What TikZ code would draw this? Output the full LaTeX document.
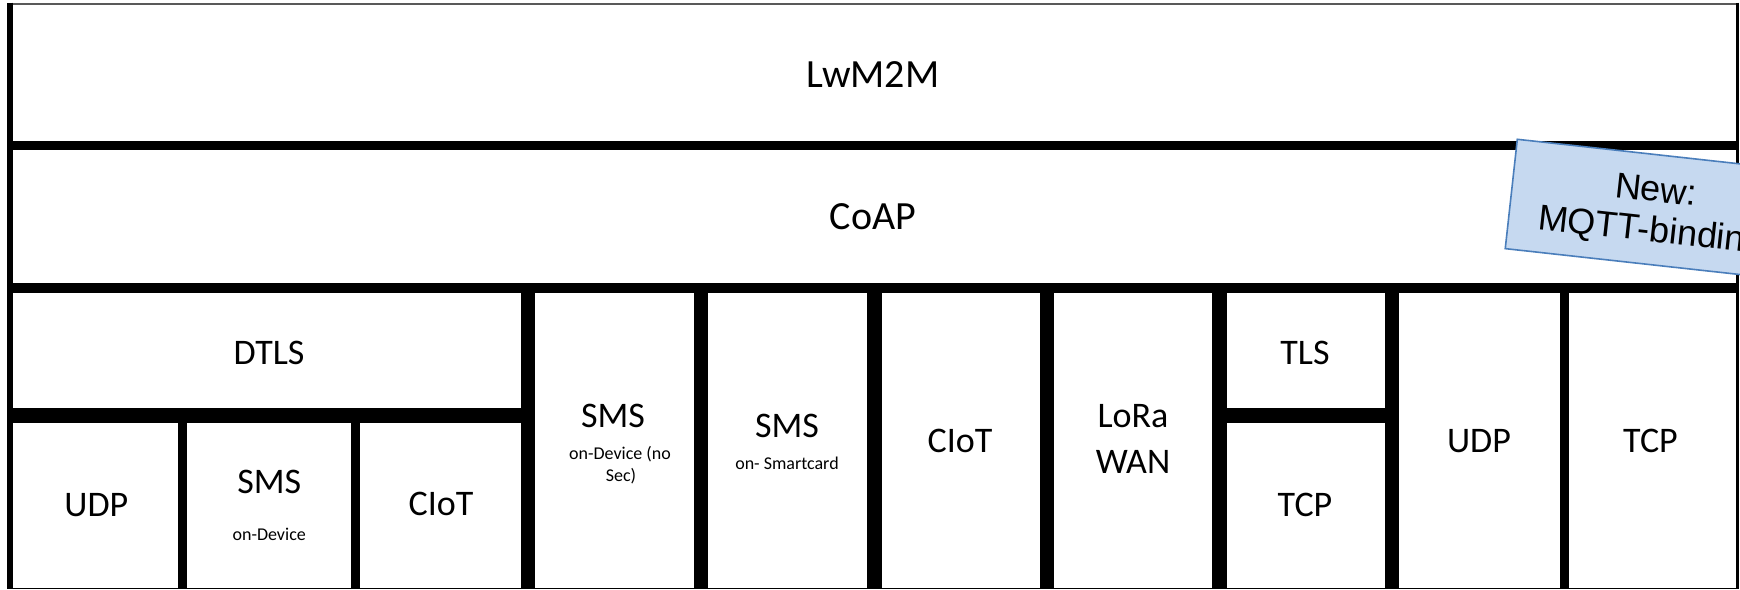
\documentclass[tikz,border=0pt]{standalone}
\usepackage{fontspec}
\setmainfont{Carlito}
\newfontfamily\arialfont{Liberation Sans}
\begin{document}
\begin{tikzpicture}[x=1pt,y=-1pt,
  big/.style={font=\fontsize{40}{48}\selectfont, anchor=base, inner sep=0pt},
  mid/.style={font=\fontsize{36}{44}\selectfont, anchor=base, inner sep=0pt},
  small/.style={font=\fontsize{18}{22}\selectfont, anchor=base, inner sep=0pt},
  bar/.style={line width=#1, line cap=butt, black},
  notebox/.style={draw=noteline, fill=notefill, line width=1.6pt,
    minimum width=287pt, minimum height=110pt, inner sep=0pt, transform shape},
  notetext/.style={font=\arialfont\fontsize{36}{40}\selectfont, anchor=base,
    inner sep=0pt, transform shape},
]
\definecolor{notefill}{HTML}{C6D9F0}
\definecolor{noteline}{HTML}{4A7EBB}
\useasboundingbox (0,0) rectangle (1740,589);
\fill[white] (0,0) rectangle (1740,589);
\clip (0,0) rectangle (1740,589);

% outer frame
\draw[bar=2, black!65] (7,3.7) -- (1739,3.7);
\draw[bar=1.6] (7,588.3) -- (1739,588.3);
\draw[bar=2.6] (1737.4,2.7) -- (1737.4,589);
\draw[bar=6.5] (10,2.7) -- (10,589);

% layer separators
\draw[bar=9.5] (7,145.5) -- (1739,145.5);
\draw[bar=10] (7,287.5) -- (1739,287.5);
\draw[bar=14.5] (7,415.5) -- (534.5,415.5);
\draw[bar=14.5] (1219.5,415.5) -- (1398.5,415.5);

% column separators
\draw[bar=9] (182.6,415) -- (182.6,589);
\draw[bar=9] (355.6,415) -- (355.6,589);
\draw[bar=13.5] (528.2,283) -- (528.2,589);
\draw[bar=14] (701,283) -- (701,589);
\draw[bar=15] (874,283) -- (874,589);
\draw[bar=14.5] (1046.8,283) -- (1046.8,589);
\draw[bar=14.5] (1219.5,283) -- (1219.5,589);
\draw[bar=14.5] (1391.8,283) -- (1391.8,589);
\draw[bar=8.5] (1564.5,283) -- (1564.5,589);

% labels
\node[big] (lwm2m) at (873,87) {LwM2M};
\node[big] (coap) at (873,229) {CoAP};
\node[mid] (dtls) at (269,364) {DTLS};
\node[mid] (udpa) at (96.4,516) {UDP};
\node[mid] (smsa) at (269.2,493) {SMS};
\node[small] (smsasub) at (269.2,540) {on-Device};
\node[mid] (ciota) at (441,515) {CIoT};
\node[mid] (smsb) at (613,427) {SMS};
\node[small] (smsbsub) at (620,459) {on-Device (no};
\node[small] (smsbsubb) at (621,481) {Sec)};
\node[mid] (smsc) at (787,437) {SMS};
\node[small] (smscsub) at (787,469) {on- Smartcard};
\node[mid] (ciotb) at (960,452) {CIoT};
\node[mid] (lora) at (1133,427) {LoRa};
\node[mid] (wan) at (1133,473) {WAN};
\node[mid] (tls) at (1305,364) {TLS};
\node[mid] (tcpa) at (1305,516) {TCP};
\node[mid] (udpb) at (1479,452) {UDP};
\node[mid] (tcpb) at (1650.5,452) {TCP};

% tilted note
\begin{scope}[shift={(1653.9,209.7)}, rotate=-6.3]
  \node[notebox] (mqtt) at (0,0) {};
  \node[notetext] (mqttnew) at (0,-8.2) {New:};
  \node[notetext] (mqttbind) at (0,32.2) {MQTT-binding};
\end{scope}
\end{tikzpicture}
\end{document}
